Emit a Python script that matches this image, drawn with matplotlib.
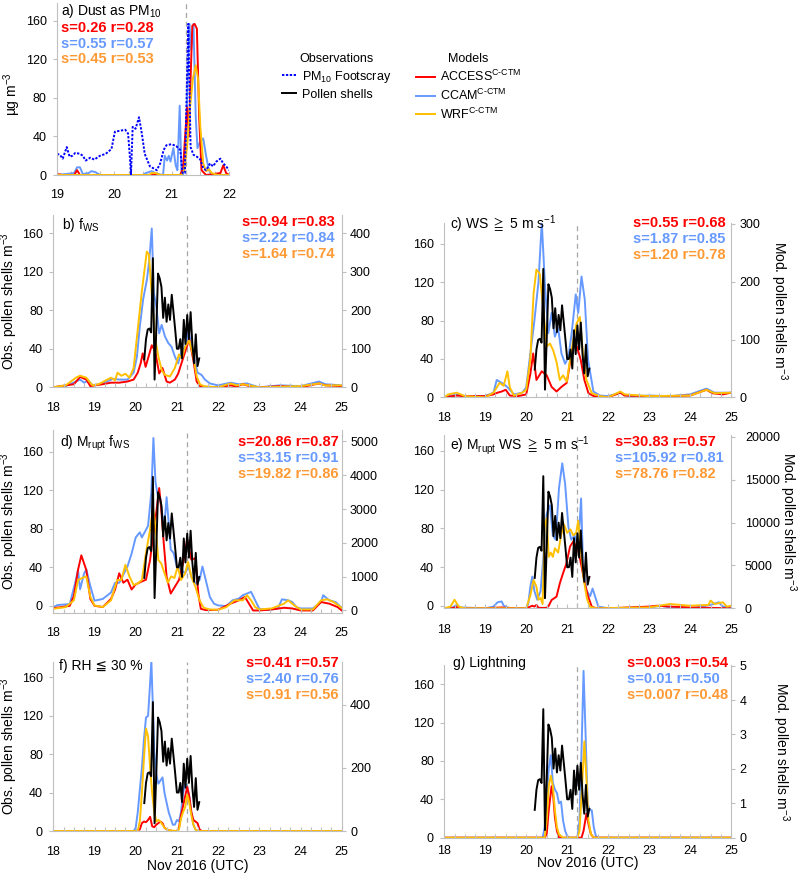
import numpy as np
import matplotlib.pyplot as plt
from matplotlib.lines import Line2D
from matplotlib.ticker import MultipleLocator, FixedLocator

plt.rcParams['font.family'] = ['Liberation Sans', 'DejaVu Sans']
plt.rcParams['mathtext.fontset'] = 'custom'
plt.rcParams['mathtext.rm'] = 'Liberation Sans'
plt.rcParams['mathtext.it'] = 'Liberation Sans:italic'
plt.rcParams['mathtext.bf'] = 'Liberation Sans:bold'
plt.rcParams['mathtext.fallback'] = 'stixsans'

RED = '#FF0000'
BLUE = '#6699FF'
GOLD = '#FFC000'
ORANGE = '#FF9933'
PM_BLUE = '#0000FF'
SPINE = '#BFBFBF'

# ---- data: (day of Nov 2016, value) ----
# observed pollen shells (left axis, b-g)
obs_pollen = [(20.208, 29), (20.250, 50), (20.292, 60), (20.333, 61), (20.375, 57), (20.417, 134),
              (20.458, 8), (20.500, 60), (20.542, 118), (20.583, 113), (20.625, 104), (20.667, 72),
              (20.708, 93), (20.750, 68), (20.792, 86), (20.833, 70), (20.875, 96), (20.917, 78),
              (20.958, 60), (21.000, 40), (21.042, 40), (21.083, 50), (21.125, 30), (21.167, 70),
              (21.208, 45), (21.250, 75), (21.292, 50), (21.333, 78), (21.375, 45), (21.417, 25),
              (21.458, 55), (21.500, 22), (21.542, 30)]

# a) dust as PM10
pm10_footscray = [(19.0, 22), (19.05, 21), (19.1, 17), (19.17, 29), (19.22, 19), (19.27, 20), (19.32, 23),
                  (19.4, 22), (19.45, 20), (19.5, 15), (19.58, 18), (19.65, 16), (19.75, 20), (19.85, 22),
                  (19.95, 27), (20.01, 45), (20.1, 46), (20.19, 47), (20.24, 43), (20.27, 20), (20.29, 0),
                  (20.32, 50), (20.37, 48), (20.43, 60), (20.48, 43), (20.53, 22), (20.62, 9), (20.74, 5),
                  (20.8, 12), (20.86, 26), (20.91, 31), (21.0, 32), (21.08, 30), (21.15, 26), (21.19, 2),
                  (21.23, 2), (21.29, 157), (21.33, 29), (21.38, 21), (21.44, 19), (21.5, 16), (21.55, 7),
                  (21.6, 5), (21.67, 12), (21.72, 9), (21.78, 14), (21.85, 17), (21.9, 12), (21.95, 9), (22.0, 5)]
a_access = [(19.0, 1), (19.1, 0), (19.3, 0), (19.35, 5), (19.4, 0), (20.6, 0), (20.7, 1), (20.8, 0),
            (21.15, 0), (21.2, 8), (21.24, 45), (21.27, 70), (21.3, 40), (21.33, 100), (21.36, 155),
            (21.4, 157), (21.44, 152), (21.48, 60), (21.52, 5), (21.6, 0), (21.85, 2), (21.9, 10),
            (21.95, 2), (22.0, 0)]
a_ccam = [(19.0, 0), (19.3, 2), (19.35, 8), (19.4, 8), (19.45, 1), (19.55, 2), (19.6, 4), (19.67, 3),
          (19.75, 0), (20.5, 0), (20.55, 2), (20.65, 4), (20.75, 1), (20.85, 0), (20.88, 20), (20.92, 15),
          (20.95, 20), (20.98, 14), (21.03, 28), (21.07, 10), (21.1, 5), (21.14, 72), (21.17, 5), (21.2, 0),
          (21.25, 40), (21.28, 100), (21.31, 157), (21.34, 130), (21.38, 157), (21.42, 60), (21.45, 28),
          (21.5, 35), (21.55, 38), (21.6, 20), (21.65, 5), (21.7, 0), (22.0, 0)]
a_wrf = [(19.0, 0), (20.6, 0), (20.65, 2), (20.72, 2), (20.8, 0), (21.17, 0), (21.22, 5), (21.27, 30),
         (21.32, 70), (21.37, 100), (21.42, 114), (21.46, 100), (21.5, 50), (21.55, 12), (21.6, 4),
         (21.65, 6), (21.7, 2), (21.8, 0), (22.0, 0)]

# b) f_WS
b_access = [(18.0, 0), (18.3, 5), (18.5, 8), (18.65, 27), (18.8, 20), (18.9, 3), (19.0, 5), (19.2, 8),
            (19.4, 12), (19.6, 12), (19.8, 15), (19.95, 20), (20.05, 38), (20.12, 62), (20.17, 88),
            (20.24, 53), (20.3, 75), (20.39, 109), (20.47, 95), (20.57, 36), (20.65, 50), (20.75, 15),
            (20.83, 12), (20.95, 20), (21.03, 35), (21.11, 62), (21.2, 92), (21.3, 125), (21.4, 70),
            (21.48, 15), (21.56, 3), (21.7, 0), (22.0, 0), (22.3, 5), (22.45, 2), (22.6, 8), (22.8, 2),
            (23.0, 0), (23.5, 3), (24.0, 0), (24.45, 10), (24.6, 5), (25.0, 3)]
b_ccam = [(18.0, 0), (18.3, 3), (18.55, 15), (18.65, 20), (18.75, 12), (18.85, 18), (18.95, 5), (19.1, 8),
          (19.3, 15), (19.45, 22), (19.6, 20), (19.8, 20), (19.95, 38), (20.03, 80), (20.1, 158),
          (20.18, 228), (20.27, 278), (20.33, 330), (20.39, 412), (20.44, 245), (20.5, 210), (20.57, 140),
          (20.63, 162), (20.71, 132), (20.79, 115), (20.87, 105), (20.95, 80), (21.03, 62), (21.11, 92),
          (21.2, 105), (21.28, 145), (21.35, 115), (21.43, 70), (21.5, 38), (21.6, 32), (21.68, 20),
          (21.8, 10), (22.0, 5), (22.3, 12), (22.5, 8), (22.7, 10), (22.9, 3), (23.0, 0), (23.5, 5),
          (24.0, 3), (24.45, 15), (24.6, 8), (25.0, 5)]
b_wrf = [(18.0, 0), (18.3, 5), (18.55, 25), (18.65, 30), (18.8, 25), (18.95, 5), (19.1, 8), (19.4, 25),
         (19.5, 18), (19.56, 38), (19.65, 30), (19.75, 35), (19.85, 25), (19.95, 50), (20.05, 150),
         (20.15, 250), (20.27, 352), (20.32, 345), (20.4, 225), (20.47, 128), (20.55, 80), (20.63, 45),
         (20.71, 32), (20.83, 28), (20.95, 50), (21.05, 85), (21.12, 75), (21.2, 105), (21.3, 122),
         (21.4, 80), (21.48, 28), (21.56, 8), (21.65, 3), (22.0, 0), (22.3, 10), (22.45, 5), (22.6, 8),
         (23.0, 0), (24.0, 3), (24.45, 10), (24.6, 5), (25.0, 5)]

# c) WS >= 5 m/s
c_access = [(18.0, 0), (18.3, 3), (18.5, 2), (19.0, 2), (19.2, 5), (19.3, 8), (19.4, 10), (19.5, 13),
            (19.6, 3), (19.8, 2), (20.0, 5), (20.1, 40), (20.17, 76), (20.25, 30), (20.38, 45), (20.5, 38),
            (20.62, 18), (20.74, 10), (20.86, 18), (20.99, 25), (21.07, 60), (21.17, 100), (21.25, 85),
            (21.33, 65), (21.42, 30), (21.52, 7), (21.65, 2), (22.0, 0), (22.3, 8), (22.4, 3), (23.0, 2),
            (23.5, 2), (24.0, 3), (24.4, 13), (24.55, 7), (24.8, 5), (25.0, 8)]
c_ccam = [(18.0, 0), (18.3, 5), (18.5, 2), (19.0, 2), (19.2, 8), (19.28, 30), (19.45, 23), (19.55, 17),
          (19.7, 5), (19.9, 8), (20.0, 17), (20.1, 75), (20.2, 133), (20.3, 200), (20.38, 303),
          (20.46, 191), (20.54, 111), (20.62, 146), (20.7, 105), (20.78, 120), (20.86, 76), (20.95, 58),
          (21.03, 70), (21.11, 111), (21.21, 178), (21.27, 146), (21.35, 209), (21.43, 169), (21.51, 65),
          (21.64, 10), (21.8, 3), (22.0, 2), (22.3, 8), (22.5, 2), (23.0, 3), (23.5, 2), (24.0, 5),
          (24.4, 15), (24.6, 8), (25.0, 8)]
c_wrf = [(18.0, 0), (18.1, 5), (18.3, 8), (18.5, 2), (19.0, 0), (19.2, 8), (19.35, 25), (19.45, 20),
         (19.54, 45), (19.6, 17), (19.7, 3), (19.9, 8), (20.0, 13), (20.1, 66), (20.18, 180), (20.25, 221),
         (20.33, 214), (20.42, 151), (20.5, 88), (20.58, 93), (20.66, 81), (20.74, 61), (20.82, 30),
         (20.9, 38), (20.99, 27), (21.07, 65), (21.15, 100), (21.23, 128), (21.31, 139), (21.39, 70),
         (21.47, 30), (21.6, 7), (21.8, 2), (22.0, 0), (22.3, 10), (22.4, 5), (23.0, 2), (24.0, 3),
         (24.4, 13), (24.6, 7), (25.0, 8)]

# d) M_rupt f_WS
d_access = [(18.0, 70), (18.2, 100), (18.4, 140), (18.5, 430), (18.6, 1200), (18.68, 1630), (18.8, 1200),
            (18.9, 340), (19.0, 140), (19.2, 100), (19.4, 340), (19.5, 620), (19.6, 1100), (19.7, 820),
            (19.8, 910), (19.9, 620), (20.0, 770), (20.15, 860), (20.25, 910), (20.35, 1500), (20.42, 2200),
            (20.5, 2900), (20.57, 3620), (20.62, 3000), (20.68, 2000), (20.75, 1000), (20.85, 500),
            (20.95, 700), (21.05, 900), (21.15, 1400), (21.25, 2100), (21.35, 1500), (21.45, 1550),
            (21.52, 500), (21.58, 50), (21.7, 10), (22.0, 20), (22.3, 200), (22.5, 300), (22.65, 400),
            (22.75, 200), (22.85, 0), (23.0, 0), (23.3, 30), (23.6, 80), (23.8, 60), (24.0, 0), (24.3, 0),
            (24.5, 250), (24.7, 200), (24.9, 100), (25.0, 0)]
d_ccam = [(18.0, 96), (18.1, 160), (18.4, 190), (18.55, 910), (18.6, 1200), (18.65, 625), (18.75, 1100),
          (18.8, 1220), (18.9, 720), (19.0, 290), (19.2, 340), (19.4, 530), (19.5, 820), (19.6, 820),
          (19.7, 1060), (19.8, 1300), (19.9, 1680), (20.0, 2160), (20.1, 2310), (20.15, 2160), (20.3, 2500),
          (20.38, 3500), (20.43, 5100), (20.48, 3800), (20.55, 3300), (20.6, 3300), (20.65, 2800),
          (20.7, 2600), (20.75, 3350), (20.8, 2600), (20.85, 1800), (20.92, 1700), (21.0, 1300),
          (21.1, 1200), (21.2, 1100), (21.28, 1300), (21.35, 1000), (21.45, 800), (21.55, 900),
          (21.62, 1300), (21.7, 900), (21.8, 400), (21.9, 200), (22.0, 150), (22.2, 130), (22.35, 300),
          (22.5, 350), (22.6, 450), (22.7, 500), (22.8, 550), (22.9, 300), (23.0, 50), (23.2, 10),
          (23.45, 60), (23.55, 330), (23.7, 300), (23.8, 250), (23.9, 100), (24.0, 60), (24.3, 60),
          (24.5, 250), (24.55, 450), (24.7, 300), (24.85, 250), (25.0, 80)]
d_wrf = [(18.0, 50), (18.3, 100), (18.5, 300), (18.6, 900), (18.7, 960), (18.8, 1010), (18.9, 400),
         (19.0, 150), (19.2, 100), (19.4, 300), (19.55, 900), (19.65, 900), (19.75, 1350), (19.85, 1000),
         (19.95, 750), (20.05, 800), (20.15, 900), (20.25, 1700), (20.35, 2400), (20.42, 3030),
         (20.48, 2500), (20.55, 1490), (20.62, 1390), (20.7, 1100), (20.78, 820), (20.86, 1010),
         (20.94, 960), (21.02, 1300), (21.1, 900), (21.2, 1100), (21.27, 1440), (21.35, 1000),
         (21.45, 700), (21.55, 300), (21.65, 80), (21.8, 30), (22.0, 20), (22.2, 100), (22.4, 300),
         (22.6, 300), (22.7, 450), (22.8, 300), (22.9, 100), (23.0, 30), (23.3, 60), (23.6, 200),
         (23.7, 300), (23.85, 150), (24.0, 30), (24.3, 30), (24.5, 300), (24.65, 330), (24.8, 250), (25.0, 80)]

# e) M_rupt WS >= 5 m/s
e_access = [(18.0, 0), (18.2, 30), (18.3, 150), (18.4, 0), (19.0, 0), (19.4, 100), (19.5, 50), (20.0, 0),
            (20.15, 300), (20.2, 200), (20.25, 400), (20.3, 50), (20.5, 50), (20.55, 300), (20.62, 970),
            (20.74, 1360), (20.82, 2900), (20.9, 4100), (20.98, 5200), (21.07, 7200), (21.15, 7800),
            (21.27, 6800), (21.35, 4900), (21.43, 2900), (21.51, 1400), (21.6, 200), (21.7, 0), (22.0, 0),
            (23.0, 200), (23.2, 300), (23.5, 200), (24.0, 100), (24.5, 50), (25.0, 0)]
e_ccam = [(18.0, 0), (18.2, 100), (18.3, 400), (18.4, 100), (19.0, 0), (19.2, 200), (19.3, 700),
          (19.4, 800), (19.45, 300), (19.6, 0), (20.0, 0), (20.05, 500), (20.1, 2500), (20.15, 3700),
          (20.2, 2000), (20.27, 1000), (20.35, 2000), (20.42, 6000), (20.5, 11000), (20.58, 12000),
          (20.65, 8500), (20.72, 8000), (20.8, 14000), (20.88, 16900), (20.95, 14500), (21.03, 9500),
          (21.1, 8000), (21.18, 8500), (21.27, 7200), (21.34, 12800), (21.39, 4500), (21.47, 2100),
          (21.56, 1400), (21.62, 2300), (21.68, 1400), (21.76, 200), (22.0, 0), (23.0, 100), (23.3, 300),
          (23.5, 100), (24.0, 0), (24.5, 400), (24.7, 700), (24.8, 200), (25.0, 100)]
e_wrf = [(18.0, 0), (18.15, 200), (18.25, 1000), (18.35, 200), (18.5, 0), (20.0, 0), (20.1, 1500),
         (20.18, 3300), (20.25, 2500), (20.3, 1000), (20.35, 1200), (20.4, 500), (20.45, 9500),
         (20.5, 10500), (20.55, 6000), (20.6, 6500), (20.65, 6000), (20.7, 7000), (20.78, 6500),
         (20.85, 8500), (20.92, 9800), (21.0, 8800), (21.08, 9200), (21.15, 8500), (21.22, 8800),
         (21.27, 10200), (21.32, 7500), (21.4, 3500), (21.48, 1200), (21.55, 200), (21.7, 0), (23.0, 100),
         (23.5, 500), (24.0, 300), (24.45, 400), (24.5, 900), (24.6, 500), (24.8, 700), (24.9, 200), (25.0, 300)]

# f) RH <= 30 %
f_access = [(18.0, 0), (20.0, 0), (20.1, 5), (20.15, 25), (20.2, 30), (20.25, 28), (20.3, 35), (20.35, 45),
            (20.4, 15), (20.45, 12), (20.5, 20), (20.55, 25), (20.6, 30), (20.65, 25), (20.7, 10),
            (20.8, 2), (20.9, 0), (21.0, 0), (21.05, 10), (21.1, 50), (21.2, 110), (21.25, 140),
            (21.3, 110), (21.35, 60), (21.4, 35), (21.45, 30), (21.5, 25), (21.55, 5), (21.6, 0), (25.0, 0)]
f_ccam = [(18.0, 0), (19.95, 0), (20.0, 10), (20.05, 60), (20.1, 130), (20.15, 200), (20.2, 290),
          (20.25, 360), (20.3, 365), (20.35, 470), (20.38, 540), (20.42, 380), (20.45, 250), (20.5, 180),
          (20.55, 150), (20.6, 160), (20.65, 170), (20.7, 120), (20.75, 90), (20.8, 60), (20.85, 40),
          (20.9, 20), (20.95, 20), (21.0, 35), (21.05, 30), (21.1, 60), (21.15, 120), (21.2, 150),
          (21.25, 140), (21.3, 110), (21.35, 60), (21.4, 20), (21.45, 5), (21.5, 0), (25.0, 0)]
f_wrf = [(18.0, 0), (20.05, 0), (20.1, 30), (20.15, 120), (20.2, 230), (20.25, 325), (20.3, 300),
         (20.35, 200), (20.4, 120), (20.45, 60), (20.5, 30), (20.55, 35), (20.6, 30), (20.65, 20),
         (20.7, 10), (20.8, 2), (21.0, 0), (21.05, 5), (21.1, 40), (21.15, 60), (21.2, 75), (21.25, 115),
         (21.3, 90), (21.35, 50), (21.4, 20), (21.45, 5), (21.5, 0), (25.0, 0)]

# g) lightning
g_access = [(18.0, 0), (20.45, 0), (20.5, 0.1), (20.55, 0.8), (20.62, 1.5), (20.66, 1.2), (20.7, 0.6),
            (20.75, 0.2), (20.8, 0), (21.35, 0), (21.4, 0.2), (21.47, 0.7), (21.52, 0.4), (21.58, 0.1),
            (21.65, 0), (25.0, 0)]
g_ccam = [(18.0, 0), (20.4, 0), (20.45, 0.3), (20.5, 1.2), (20.55, 2.0), (20.6, 2.4), (20.65, 1.6),
          (20.7, 1.4), (20.75, 1.3), (20.8, 1.0), (20.85, 1.05), (20.9, 0.5), (20.95, 0.2), (21.0, 0.05),
          (21.05, 0), (21.25, 0), (21.3, 0.5), (21.35, 2.5), (21.4, 4.85), (21.45, 3.0), (21.5, 1.0),
          (21.55, 0.8), (21.6, 0.8), (21.65, 0.3), (21.7, 0.05), (21.75, 0), (25.0, 0)]
g_wrf = [(18.0, 0), (20.45, 0), (20.5, 0.5), (20.55, 1.5), (20.6, 1.8), (20.65, 1.5), (20.7, 0.8),
         (20.75, 0.3), (20.8, 0.1), (20.9, 0), (21.25, 0), (21.3, 0.2), (21.35, 1.2), (21.42, 2.8),
         (21.48, 1.5), (21.52, 0.5), (21.58, 0.1), (21.65, 0), (25.0, 0)]

left_ticks = [0, 40, 80, 120, 160]
stat_colors = [RED, BLUE, ORANGE]
stats_a = ['s=0.26 r=0.28', 's=0.55 r=0.57', 's=0.45 r=0.53']
stats_b = ['s=0.94 r=0.83', 's=2.22 r=0.84', 's=1.64 r=0.74']
stats_c = ['s=0.55 r=0.68', 's=1.87 r=0.85', 's=1.20 r=0.78']
stats_d = ['s=20.86 r=0.87', 's=33.15 r=0.91', 's=19.82 r=0.86']
stats_e = ['s=30.83 r=0.57', 's=105.92 r=0.81', 's=78.76 r=0.82']
stats_f = ['s=0.41 r=0.57', 's=2.40 r=0.76', 's=0.91 r=0.56']
stats_g = ['s=0.003 r=0.54', 's=0.01 r=0.50', 's=0.007 r=0.48']

W, H = 800, 882
fig = plt.figure(figsize=(W / 100, H / 100), dpi=100)


def rect(x0, y0, x1, y1):
    return [x0 / W, 1 - y1 / H, (x1 - x0) / W, (y1 - y0) / H]


def ftext(x, y, s, **kw):
    fig.text(x / W, 1 - y / H, s, va='center', ha='left', **kw)


def xy(series):
    t, v = zip(*series)
    return np.array(t), np.array(v)


def base_axes(box, xlim, ylim, xpad):
    ax = fig.add_axes(rect(*box))
    ax.set_xlim(*xlim)
    ax.set_ylim(*ylim)
    ax.yaxis.set_major_locator(FixedLocator(left_ticks))
    ax.xaxis.set_major_locator(MultipleLocator(1))
    ax.xaxis.set_minor_locator(MultipleLocator(0.25))
    ax.spines['top'].set_visible(False)
    ax.spines['right'].set_visible(False)
    for s in ['left', 'bottom']:
        ax.spines[s].set_color(SPINE)
        ax.spines[s].set_linewidth(0.8)
    ax.tick_params(axis='y', direction='out', length=3, width=0.8, color=SPINE, pad=4.5, labelsize=9)
    ax.tick_params(axis='x', which='both', direction='in', length=3, width=0.8, color=SPINE,
                   pad=xpad, labelsize=9)
    return ax


def stats_text(x, y0, lines, step=16):
    for i, (s, c) in enumerate(zip(lines, stat_colors)):
        ftext(x, y0 + i * step, s, color=c, fontsize=10.5, fontweight='bold')


def pollen_panel(box, ylim_l, ylim_r, rticks, access, ccam, wrf, xpad=10, rpad=3):
    ax = base_axes(box, (18, 25), ylim_l, xpad)
    ax2 = ax.twinx()
    ax2.set_ylim(*ylim_r)
    ax2.yaxis.set_major_locator(FixedLocator(rticks))
    for s in ['top', 'left', 'bottom']:
        ax2.spines[s].set_visible(False)
    ax2.spines['right'].set_color(SPINE)
    ax2.spines['right'].set_linewidth(0.8)
    ax2.tick_params(axis='y', direction='out', length=3, width=0.8, color=SPINE, pad=rpad, labelsize=9)
    ax2.axvline(21.25, color='#A6A6A6', lw=0.9, ls=(0, (4, 3)), zorder=0)
    for series, col in [(ccam, BLUE), (access, RED), (wrf, GOLD)]:
        t, v = xy(series)
        ax2.plot(t, v, color=col, lw=1.4)
    t, v = xy(obs_pollen)
    ax.plot(t, v, color='black', lw=1.4)
    ax.set_zorder(ax2.get_zorder() + 1)
    ax.patch.set_visible(False)
    return ax, ax2


# ---- a) dust ----
ax_a = base_axes((57, 3, 229, 175), (19, 22), (0, 178.7), 9.8)
ax_a.axvline(21.25, color='#A6A6A6', lw=0.9, ls=(0, (4, 3)), zorder=0)
for series, col in [(a_ccam, BLUE), (a_access, RED), (a_wrf, GOLD)]:
    t, v = xy(series)
    ax_a.plot(t, v, color=col, lw=1.4)
t, v = xy(pm10_footscray)
ax_a.plot(t, v, color=PM_BLUE, lw=1.4, ls=(0, (1.2, 0.8)))
ax_a.set_ylabel('µg m$^{-3}$', fontsize=10)
ax_a.yaxis.set_label_coords(-0.2, 0.47)
ftext(61, 11, 'a) Dust as PM$_{\\mathrm{10}}$', fontsize=10)
stats_text(61, 28.3, stats_a, step=15.5)

# ---- b-g ----
ax_b, ax_b2 = pollen_panel((53.3, 215, 341.7, 387.3), (0, 178.8), (0, 447), [0, 100, 200, 300, 400],
                           b_access, b_ccam, b_wrf, xpad=10.5)
ax_c, ax_c2 = pollen_panel((444.3, 223, 731, 397.3), (0, 181.9), (0, 301.6), [0, 100, 200, 300],
                           c_access, c_ccam, c_wrf, xpad=10.5)
ax_d, ax_d2 = pollen_panel((53.3, 430, 341.7, 612.7), (-7.2, 182.7), (-66, 5337),
                           [0, 1000, 2000, 3000, 4000, 5000], d_access, d_ccam, d_wrf, xpad=10.5)
ax_e, ax_e2 = pollen_panel((444.3, 435, 731, 608.3), (-2.4, 176.5), (0, 20200),
                           [0, 5000, 10000, 15000, 20000], e_access, e_ccam, e_wrf, xpad=11, rpad=7)
ax_f, ax_f2 = pollen_panel((53.3, 661.7, 341.7, 831), (0, 176), (0, 537), [0, 200, 400],
                           f_access, f_ccam, f_wrf, xpad=11)
ax_g, ax_g2 = pollen_panel((444.3, 665, 731, 837.7), (0, 180), (0, 5.02), [0, 1, 2, 3, 4, 5],
                           g_access, g_ccam, g_wrf, xpad=5)

obs_label = 'Obs. pollen shells m$^{-3}$'
mod_label = 'Mod. pollen shells m$^{-3}$'
for ax in [ax_b, ax_d, ax_f]:
    ax.set_ylabel(obs_label, fontsize=10)
    ax.yaxis.set_label_coords(-0.115, 0.5)
for ax2, xpos in [(ax_c2, 1.13), (ax_e2, 1.16), (ax_g2, 1.136)]:
    ax2.set_ylabel(mod_label, fontsize=10, rotation=270, va='bottom')
    ax2.yaxis.set_label_coords(xpos, 0.5)

ax_f.set_xlabel('Nov 2016 (UTC)', fontsize=10)
ax_f.xaxis.set_label_coords(0.5, -0.165)
ax_g.set_xlabel('Nov 2016 (UTC)', fontsize=10)
ax_g.xaxis.set_label_coords(0.5, -0.105)

ftext(62, 225, 'b) f$_{\\mathrm{WS}}$', fontsize=10)
ftext(450, 224, 'c) WS $\\geqq$ 5 m s$^{-1}$', fontsize=10)
ftext(60, 443.3, 'd) M$_{\\mathrm{rupt}}$ f$_{\\mathrm{WS}}$', fontsize=10)
ftext(450, 446, 'e) M$_{\\mathrm{rupt}}$ WS $\\geqq$ 5 m s$^{-1}$', fontsize=10)
ftext(59.3, 666, 'f) RH ≦ 30 %', fontsize=10)
ftext(452.7, 662.7, 'g) Lightning', fontsize=10)

stats_text(242, 221.7, stats_b)
stats_text(633, 222.7, stats_c)
stats_text(238.3, 441.7, stats_d)
stats_text(615, 441.7, stats_e)
stats_text(246, 662.7, stats_f)
stats_text(626.7, 662.7, stats_g)

# ---- legends ----
obs_handles = [Line2D([], [], color=PM_BLUE, lw=1.4, ls=(0, (1.2, 0.8))),
               Line2D([], [], color='black', lw=1.4)]
leg1 = fig.legend(obs_handles, ['PM$_{\\mathrm{10}}$ Footscray', 'Pollen shells'], title='Observations',
                  loc='upper center', bbox_to_anchor=(337 / W, 1 - 53 / H), frameon=False, fontsize=9,
                  title_fontsize=9, handlelength=1.1, handletextpad=0.5, labelspacing=0.3,
                  borderpad=0, borderaxespad=0)
mod_handles = [Line2D([], [], color=RED, lw=1.4), Line2D([], [], color=BLUE, lw=1.4),
               Line2D([], [], color=GOLD, lw=1.4)]
mod_labels = ['ACCESS$^{\\mathrm{C\\text{-}CTM}}$', 'CCAM$^{\\mathrm{C\\text{-}CTM}}$',
              'WRF$^{\\mathrm{C\\text{-}CTM}}$']
leg2 = fig.legend(mod_handles, mod_labels, title='Models', loc='upper center',
                  bbox_to_anchor=(468.5 / W, 1 - 53 / H), frameon=False, fontsize=9, title_fontsize=9,
                  handlelength=1.45, handletextpad=0.4, labelspacing=0.3, borderpad=0, borderaxespad=0)

fig.savefig('out.png', dpi=100)
